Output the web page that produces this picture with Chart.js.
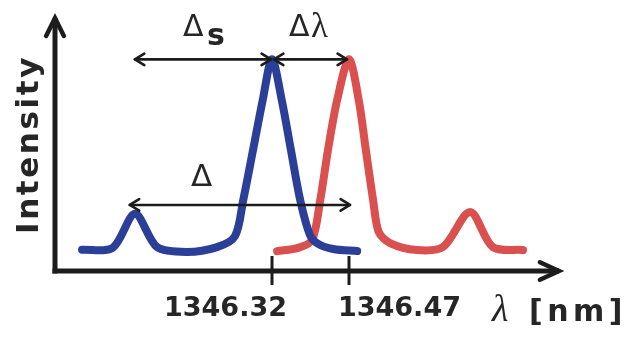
<!DOCTYPE html>
<html>
<head>
<meta charset="utf-8">
<script src="https://cdn.jsdelivr.net/npm/chart.js@4/dist/chart.umd.min.js"></script>
<style>
  html, body { margin: 0; padding: 0; background: #ffffff; }
  #wrap { width: 633px; height: 341px; position: relative; }
  canvas { display: block; }
</style>
</head>
<body>
<div id="wrap"><canvas id="spectrum" width="633" height="341"></canvas></div>
<script>
// Reference spectrum (blue) – wavelength in nm, intensity in arbitrary units
const wavelengthBlue = [1345.950, 1346.010, 1346.053, 1346.096, 1346.154, 1346.213, 1346.248, 1346.264, 1346.283, 1346.302, 1346.320, 1346.339, 1346.357, 1346.375, 1346.394, 1346.410, 1346.439, 1346.486];
const intensityBlue  = [0.100, 0.110, 0.270, 0.113, 0.090, 0.113, 0.165, 0.335, 0.570, 0.808, 1.000, 0.808, 0.570, 0.335, 0.170, 0.128, 0.104, 0.094];

// Shifted spectrum (red)
const wavelengthRed = [1346.330, 1346.371, 1346.398, 1346.414, 1346.429, 1346.447, 1346.470, 1346.489, 1346.503, 1346.517, 1346.528, 1346.550, 1346.602, 1346.653, 1346.706, 1346.750, 1346.809];
const intensityRed  = [0.094, 0.109, 0.146, 0.335, 0.570, 0.808, 1.000, 0.808, 0.570, 0.335, 0.184, 0.132, 0.099, 0.113, 0.279, 0.113, 0.099];

// Labelled wavelengths on the horizontal axis
const tickValues = [1346.32, 1346.47];
const tickLabels = ['1346.32', '1346.47'];

// Axis extents
const wavelengthRange = [1345.8973, 1346.8811];
const intensityRange = [0, 1.2];

// Double-headed spacing arrows: [from nm, to nm, intensity level]
const arrowSpacingS = [1346.053, 1346.320, 1.0];   // Δs: side peak to main peak
const arrowShift    = [1346.320, 1346.470, 1.0];   // Δλ: blue peak to red peak
const arrowSpacing  = [1346.043, 1346.472, 0.312]; // Δ: side peak to shifted peak

const INK = '#1c1c1c';
const TEXT = '#262626';

function toPoints(xs, ys) { return xs.map((x, i) => ({ x: x, y: ys[i] })); }

function chevron(ctx, tipX, tipY, dirX, dirY, len, spread) {
  const a = Math.atan2(dirY, dirX);
  ctx.beginPath();
  ctx.moveTo(tipX - len * Math.cos(a - spread), tipY - len * Math.sin(a - spread));
  ctx.lineTo(tipX, tipY);
  ctx.lineTo(tipX - len * Math.cos(a + spread), tipY - len * Math.sin(a + spread));
  ctx.stroke();
}

function doubleArrow(ctx, chart, spec, leftInset, rightInset) {
  const xs = chart.scales.x, ys = chart.scales.y;
  const x1 = xs.getPixelForValue(spec[0]) + leftInset;
  const x2 = xs.getPixelForValue(spec[1]) - rightInset;
  const y = ys.getPixelForValue(spec[2]);
  ctx.save();
  ctx.strokeStyle = INK;
  ctx.lineWidth = 2.6;
  ctx.lineCap = 'round';
  ctx.lineJoin = 'round';
  ctx.beginPath();
  ctx.moveTo(x1, y);
  ctx.lineTo(x2, y);
  ctx.stroke();
  chevron(ctx, x1, y, -1, 0, 11, 0.55);
  chevron(ctx, x2, y, 1, 0, 11, 0.55);
  ctx.restore();
}

// Axes, axis arrows, tick marks and axis labels, drawn under the spectra
const axesPlugin = {
  id: 'axesPlugin',
  beforeDatasetsDraw(chart) {
    const ctx = chart.ctx;
    const area = chart.chartArea;
    const xs = chart.scales.x;
    ctx.save();
    ctx.strokeStyle = INK;
    ctx.lineCap = 'butt';
    ctx.lineWidth = 5;
    // vertical axis
    ctx.beginPath();
    ctx.moveTo(area.left, area.bottom + 2.5);
    ctx.lineTo(area.left, area.top + 1);
    ctx.stroke();
    // horizontal axis
    ctx.beginPath();
    ctx.moveTo(area.left - 2.5, area.bottom);
    ctx.lineTo(area.right - 1, area.bottom);
    ctx.stroke();
    ctx.lineWidth = 4.5;
    ctx.lineCap = 'round';
    ctx.lineJoin = 'miter';
    chevron(ctx, area.left, area.top + 1, 0, -1, 20, 0.46);
    chevron(ctx, area.right - 1, area.bottom, 1, 0, 21, 0.43);

    // tick marks crossing the axis
    ctx.lineWidth = 3;
    ctx.lineCap = 'butt';
    tickValues.forEach(v => {
      const px = Math.round(xs.getPixelForValue(v));
      ctx.beginPath();
      ctx.moveTo(px, area.bottom - 15);
      ctx.lineTo(px, area.bottom + 14);
      ctx.stroke();
    });

    // tick labels, set off to the outer side of each tick
    ctx.fillStyle = TEXT;
    ctx.font = 'bold 27px "DejaVu Sans"';
    ctx.textBaseline = 'alphabetic';
    tickValues.forEach((v, i) => {
      const px = xs.getPixelForValue(v);
      if (i === 0) {
        ctx.textAlign = 'right';
        ctx.fillText(tickLabels[i], px + 15, area.bottom + 45);
      } else {
        ctx.textAlign = 'left';
        ctx.fillText(tickLabels[i], px - 11, area.bottom + 45);
      }
    });

    // horizontal axis title
    ctx.textAlign = 'left';
    ctx.font = 'italic 38px "Liberation Serif"';
    ctx.fillText('λ', 492, 321);
    ctx.font = 'bold 30px "DejaVu Sans"';
    ctx.letterSpacing = '4.5px';
    ctx.fillText('[nm]', 529, 321);
    ctx.letterSpacing = '0px';

    // vertical axis title
    ctx.save();
    ctx.translate(38, 234);
    ctx.rotate(-Math.PI / 2);
    ctx.font = 'bold 31px "DejaVu Sans"';
    ctx.letterSpacing = '2.6px';
    ctx.textAlign = 'left';
    ctx.fillText('Intensity', 0, 0);
    ctx.restore();
    ctx.restore();
  },
  afterDatasetsDraw(chart) {
    const ctx = chart.ctx;
    doubleArrow(ctx, chart, arrowSpacingS, 0, 1);
    doubleArrow(ctx, chart, arrowShift, 2, 2);
    doubleArrow(ctx, chart, arrowSpacing, 0, 0);

    ctx.save();
    ctx.fillStyle = TEXT;
    ctx.textAlign = 'left';
    ctx.textBaseline = 'alphabetic';
    ctx.letterSpacing = '0px';
    // Δs
    ctx.font = '30px "DejaVu Sans"';
    ctx.fillText('Δ', 183, 36);
    ctx.font = 'bold 30px "DejaVu Sans"';
    ctx.fillText('s', 207, 45);
    // Δλ
    ctx.font = '30px "DejaVu Sans"';
    ctx.fillText('Δ', 289, 36);
    ctx.font = '35px "Liberation Serif"';
    ctx.fillText('λ', 311, 37);
    // Δ
    ctx.font = '31px "DejaVu Sans"';
    ctx.fillText('Δ', 191, 186);
    ctx.restore();
  }
};

new Chart(document.getElementById('spectrum'), {
  type: 'line',
  data: {
    datasets: [
      {
        label: 'reference',
        data: toPoints(wavelengthBlue, intensityBlue),
        borderColor: '#2b3e98',
        borderWidth: 8,
        tension: 0.3,
        borderCapStyle: 'round',
        borderJoinStyle: 'round',
        pointRadius: 0,
        fill: false
      },
      {
        label: 'shifted',
        data: toPoints(wavelengthRed, intensityRed),
        borderColor: '#d9504e',
        borderWidth: 8,
        tension: 0.3,
        borderCapStyle: 'round',
        borderJoinStyle: 'round',
        pointRadius: 0,
        fill: false
      }
    ]
  },
  options: {
    responsive: false,
    devicePixelRatio: 1,
    animation: false,
    layout: { padding: { left: 55, right: 73, top: 17, bottom: 70 } },
    scales: {
      x: { type: 'linear', min: wavelengthRange[0], max: wavelengthRange[1], display: false },
      y: { type: 'linear', min: intensityRange[0], max: intensityRange[1], display: false }
    },
    plugins: { legend: { display: false }, tooltip: { enabled: false } }
  },
  plugins: [axesPlugin]
});
</script>
</body>
</html>
